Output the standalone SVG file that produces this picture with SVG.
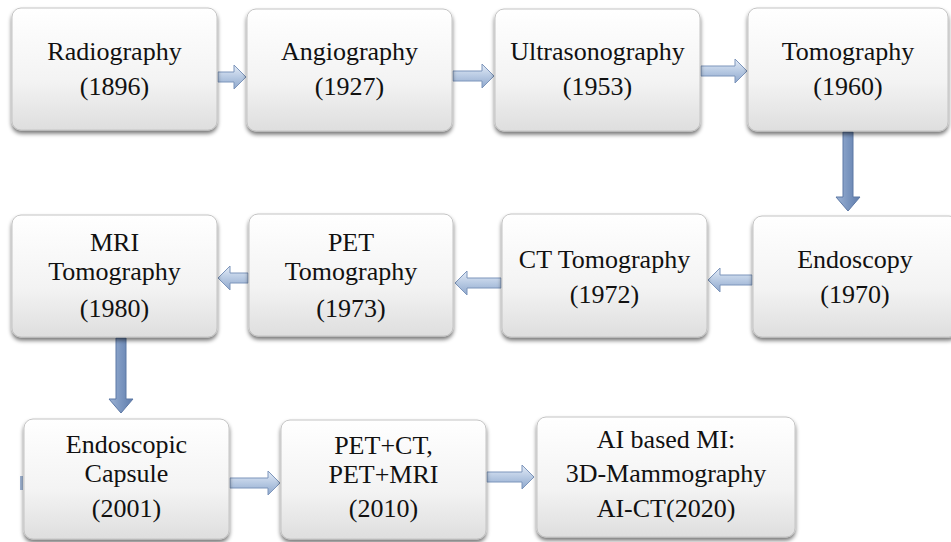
<svg xmlns="http://www.w3.org/2000/svg" width="951" height="542" viewBox="0 0 951 542">
<defs>
<linearGradient id="boxg" x1="0" y1="0" x2="0" y2="1">
<stop offset="0" stop-color="#ffffff"/>
<stop offset="0.6" stop-color="#f3f3f3"/>
<stop offset="1" stop-color="#dedede"/>
</linearGradient>
<linearGradient id="harr" x1="0" y1="0" x2="0" y2="1">
<stop offset="0" stop-color="#e4ecf7"/>
<stop offset="0.5" stop-color="#b8cae3"/>
<stop offset="1" stop-color="#8ea7cc"/>
</linearGradient>
<linearGradient id="varr" x1="0" y1="0" x2="1" y2="0">
<stop offset="0" stop-color="#9db3d4"/>
<stop offset="0.5" stop-color="#7b96c0"/>
<stop offset="1" stop-color="#5f7cab"/>
</linearGradient>
<filter id="sh" x="-10%" y="-10%" width="120%" height="130%">
<feGaussianBlur in="SourceAlpha" stdDeviation="2"/>
<feOffset dx="0" dy="3" result="b"/>
<feComponentTransfer><feFuncA type="linear" slope="0.55"/></feComponentTransfer>
<feMerge><feMergeNode/><feMergeNode in="SourceGraphic"/></feMerge>
</filter>
</defs>
<style>
.box{fill:url(#boxg);stroke:#c4c4c4;stroke-width:1;filter:url(#sh)}
.t{font-family:"Liberation Serif","Times New Roman",serif;font-size:26px;fill:#111;text-anchor:middle}
.ha{fill:url(#harr);stroke:#7d95bb;stroke-width:1}
.va{fill:url(#varr);stroke:#5d78a5;stroke-width:1}
</style>
<rect width="951" height="542" fill="#ffffff"/>

<g id="connectors">
<path class="ha" d="M218,72 H234 V65 L246,77 L234,89 V82 H218 Z"/>
<path class="ha" d="M453,71 H482 V64 L494,76 L482,88 V81 H453 Z"/>
<path class="ha" d="M701,66 H735 V59 L747,71 L735,83 V76 H701 Z"/>
<path class="va" d="M843,132 V197 H836 L848,211 L860,197 H853 V132 Z"/>
<path class="ha" d="M752,275 H720 V268 L708,280 L720,292 V285 H752 Z"/>
<path class="ha" d="M501,278 H467 V271 L455,283 L467,295 V288 H501 Z"/>
<path class="ha" d="M248,273 H230 V266 L218,278 L230,290 V283 H248 Z"/>
<path class="va" d="M116,338 V399 H109 L121,413 L133,399 H126 V338 Z"/>
<path class="ha" d="M230,478 H268 V471 L280,483 L268,495 V488 H230 Z"/>
<path class="ha" d="M487,472 H522 V465 L534,477 L522,489 V482 H487 Z"/>
<rect x="20" y="476" width="3" height="14" fill="#9fb3d2"/>
</g>

<g id="radiography">
<rect class="box" x="12" y="8" width="205" height="122" rx="9"/>
<text class="t" x="114.5" y="60">Radiography</text>
<text class="t" x="114.5" y="95">(1896)</text>
</g>
<g id="angiography">
<rect class="box" x="247" y="9" width="205" height="122" rx="9"/>
<text class="t" x="349.5" y="60">Angiography</text>
<text class="t" x="349.5" y="95">(1927)</text>
</g>
<g id="ultrasonography">
<rect class="box" x="495" y="9" width="205" height="122" rx="9"/>
<text class="t" x="597.5" y="60">Ultrasonography</text>
<text class="t" x="597.5" y="95">(1953)</text>
</g>
<g id="tomography">
<rect class="box" x="748" y="8" width="200" height="123" rx="9"/>
<text class="t" x="848" y="60">Tomography</text>
<text class="t" x="848" y="95">(1960)</text>
</g>

<g id="mri">
<rect class="box" x="12" y="215" width="205" height="122" rx="9"/>
<text class="t" x="114.5" y="251">MRI</text>
<text class="t" x="114.5" y="280">Tomography</text>
<text class="t" x="114.5" y="317">(1980)</text>
</g>
<g id="pet">
<rect class="box" x="249" y="214" width="204" height="122" rx="9"/>
<text class="t" x="351" y="251">PET</text>
<text class="t" x="351" y="280">Tomography</text>
<text class="t" x="351" y="317">(1973)</text>
</g>
<g id="ct">
<rect class="box" x="502" y="214" width="205" height="123" rx="9"/>
<text class="t" x="604.5" y="268">CT Tomography</text>
<text class="t" x="604.5" y="303">(1972)</text>
</g>
<g id="endoscopy">
<rect class="box" x="753" y="216" width="205" height="121" rx="9"/>
<text class="t" x="855" y="268">Endoscopy</text>
<text class="t" x="855" y="303">(1970)</text>
</g>

<g id="capsule">
<rect class="box" x="24" y="419" width="205" height="120" rx="9"/>
<text class="t" x="126.5" y="453">Endoscopic</text>
<text class="t" x="126.5" y="482">Capsule</text>
<text class="t" x="126.5" y="517">(2001)</text>
</g>
<g id="petct">
<rect class="box" x="281" y="420" width="205" height="119" rx="9"/>
<text class="t" x="383.5" y="454">PET+CT,</text>
<text class="t" x="383.5" y="483">PET+MRI</text>
<text class="t" x="383.5" y="517">(2010)</text>
</g>
<g id="ai">
<rect class="box" x="537" y="417" width="258" height="120" rx="9"/>
<text class="t" x="666" y="448">AI based MI:</text>
<text class="t" x="666" y="482">3D-Mammography</text>
<text class="t" x="666" y="517">AI-CT(2020)</text>
</g>
</svg>
